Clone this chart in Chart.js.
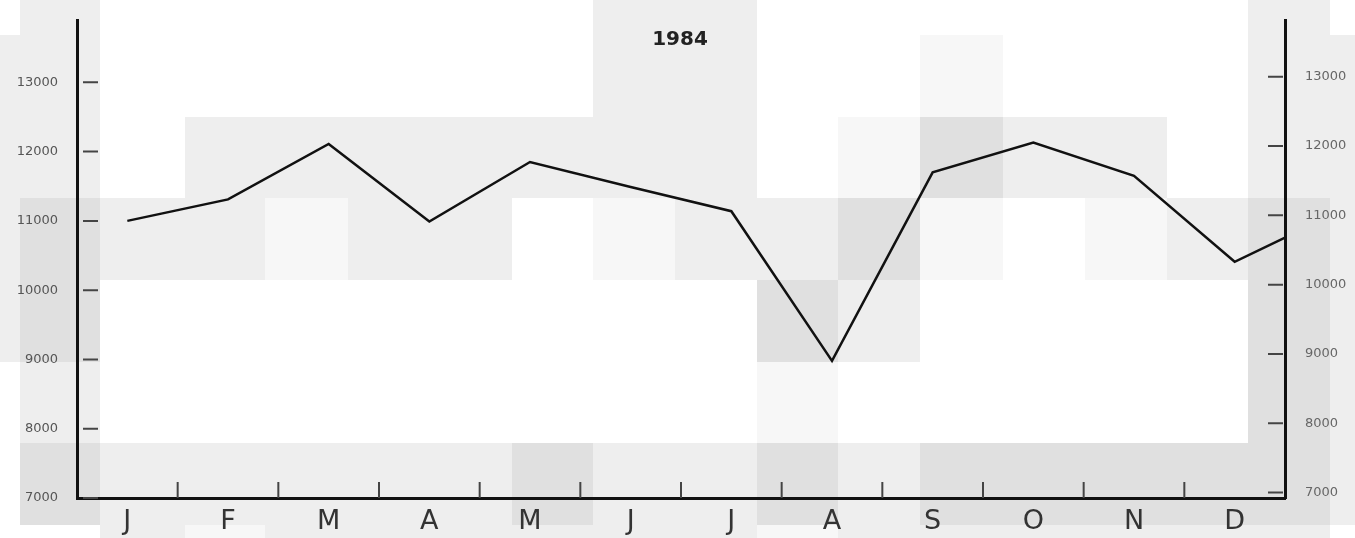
<!DOCTYPE html>
<html>
<head>
<meta charset="utf-8">
<script src="https://cdn.jsdelivr.net/npm/chart.js@4.4.0/dist/chart.umd.min.js"></script>
<style>
  html, body { margin: 0; padding: 0; background: #fff; }
  #wrap { position: relative; width: 1355px; height: 538px; overflow: hidden; }
  #paper { position: absolute; left: 0; top: 0; width: 1355px; height: 538px; }
  #paper div { position: absolute; }
  #chart { position: relative; }
  #title { position: absolute; left: 630px; width: 100px; top: 27px; text-align: center;
           font: bold 20px 'DejaVu Sans', sans-serif; color: #222; line-height: 22px; }
</style>
</head>
<body>
<div id="wrap">
  <div id="paper"></div>
  <canvas id="chart"></canvas>
  <div id="title">1984</div>
</div>
<script>
const months = ['J', 'F', 'M', 'A', 'M', 'J', 'J', 'A', 'S', 'O', 'N', 'D'];
const values1984 = [11000, 11310, 12110, 10990, 11850, 11490, 11140, 8980, 11700, 12130, 11650, 10410];
const nextJanuary = 11110; // the line runs on into the next year, cut off at the right axis
const yTicks = [7000, 8000, 9000, 10000, 11000, 12000, 13000];

// the scan has a blocky grey cast behind the drawing
const paperCols = [0, 20, 100, 185, 265, 348, 430, 512, 593, 675, 757, 838, 920, 1003, 1085, 1167, 1248, 1330, 1355];
const paperRows = [0, 35, 117, 198, 280, 362, 443, 525, 538];
const paperMap = [
    'WGWWWWWWGGWWWWWWGW',
    'GGWWWWWWGGWWLWWWGG',
    'GGWGGGGGGGWLDGGWGG',
    'GDGGLGGWLGGDLWLGDG',
    'GDWWWWWWWWDGWWWWDG',
    'WGWWWWWWWWLWWWWWDG',
    'WDGGGGGDGGDGDDDDDG',
    'WWGLGGGGGGLGGGGGGW'
];
const shades = { W: '#ffffff', L: '#f7f7f7', G: '#eeeeee', D: '#e0e0e0' };

const paper = document.getElementById('paper');
paperMap.forEach((row, r) => {
    row.split('').forEach((s, c) => {
        if (s === 'W') return;
        const d = document.createElement('div');
        d.style.left = paperCols[c] + 'px';
        d.style.top = paperRows[r] + 'px';
        d.style.width = (paperCols[c + 1] - paperCols[c]) + 'px';
        d.style.height = (paperRows[r + 1] - paperRows[r]) + 'px';
        d.style.background = shades[s];
        paper.appendChild(d);
    });
});

// points sit in the middle of each month slot, month borders are at whole numbers
const points = values1984.map((v, i) => ({ x: i + 0.5, y: v }));
points.push({ x: months.length + 0.5, y: nextJanuary });

// small tick marks drawn on the inside of the axes
const innerTicks = {
    id: 'innerTicks',
    afterDatasetsDraw(chart) {
        const { ctx, chartArea, scales } = chart;
        ctx.save();
        ctx.strokeStyle = '#444';
        ctx.lineWidth = 2;
        ctx.beginPath();
        for (let i = 1; i < months.length; i++) {
            const x = scales.x.getPixelForValue(i);
            ctx.moveTo(x, chartArea.bottom);
            ctx.lineTo(x, chartArea.bottom - 16);
        }
        yTicks.forEach(v => {
            const yl = scales.y.getPixelForValue(v);
            ctx.moveTo(chartArea.left + 6, yl);
            ctx.lineTo(chartArea.left + 21, yl);
            const yr = scales.y2.getPixelForValue(v);
            ctx.moveTo(chartArea.right - 17, yr);
            ctx.lineTo(chartArea.right - 2, yr);
        });
        ctx.stroke();
        ctx.restore();
    }
};

const tickFont = { family: 'DejaVu Sans', size: 13 };
const plainNumber = (v) => String(v);
const noPad = (scale) => { scale.paddingTop = 0; scale.paddingBottom = 0; };

const ctx = document.getElementById('chart').getContext('2d');
const chart = new Chart(ctx, {
    type: 'line',
    data: {
        datasets: [{
            data: points,
            borderColor: '#111',
            borderWidth: 2.5,
            pointRadius: 0,
            tension: 0,
            fill: false,
            yAxisID: 'y'
        }]
    },
    options: {
        responsive: true,
        maintainAspectRatio: false,
        animation: false,
        layout: { padding: { top: 20, left: 0, right: 0, bottom: 0 } },
        plugins: {
            legend: { display: false },
            tooltip: { enabled: false },
            title: { display: false }
        },
        scales: {
            x: {
                type: 'linear',
                min: 0,
                max: months.length,
                afterBuildTicks: (scale) => {
                    scale.ticks = months.map((m, i) => ({ value: i + 0.5 }));
                },
                afterFit: (scale) => { scale.height = 40; },
                grid: { display: false, drawTicks: false },
                border: { display: true, color: '#111', width: 3 },
                ticks: {
                    autoSkip: false,
                    maxRotation: 0,
                    padding: 8,
                    color: '#333',
                    font: { family: 'DejaVu Sans', size: 27 },
                    callback: (v) => months[Math.floor(v)]
                }
            },
            y: {
                position: 'left',
                min: 7000,
                max: 13900,
                afterBuildTicks: (scale) => {
                    scale.ticks = yTicks.map(v => ({ value: v }));
                },
                afterFit: (scale) => { scale.width = 77; noPad(scale); },
                grid: { display: false, drawTicks: false },
                border: { display: true, color: '#111', width: 3 },
                ticks: { padding: 19, color: '#555', font: tickFont, callback: plainNumber }
            },
            y2: {
                position: 'right',
                min: 6920,
                max: 13820,
                afterBuildTicks: (scale) => {
                    scale.ticks = yTicks.map(v => ({ value: v }));
                },
                afterFit: (scale) => { scale.width = 70; noPad(scale); },
                grid: { display: false, drawTicks: false },
                border: { display: true, color: '#111', width: 3 },
                ticks: { padding: 20, color: '#666', font: tickFont, callback: plainNumber }
            }
        }
    },
    plugins: [innerTicks]
});
</script>
</body>
</html>
